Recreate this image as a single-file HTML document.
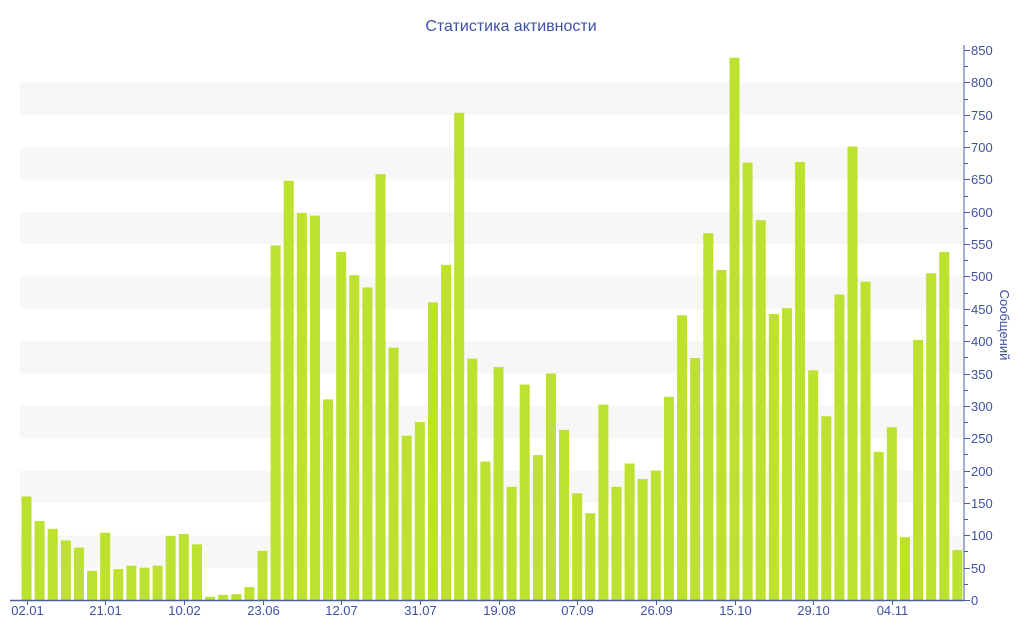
<!DOCTYPE html>
<html><head><meta charset="utf-8"><style>body{margin:0;background:#fff}svg{display:block}</style></head><body>
<svg id="s" width="1024" height="640" xmlns="http://www.w3.org/2000/svg" font-family="'Liberation Sans','DejaVu Sans',sans-serif">
<text x="511" y="31" text-anchor="middle" font-size="16" fill="#3f51a1">Статистика активности</text>
<g id="bands"></g><g id="bars"></g><g id="ax"></g>
<text transform="translate(1000,325) rotate(90)" text-anchor="middle" font-size="13" fill="#3f51a1">Сообщений</text>
</svg>
<script>
const v=[160,122,110,92,81,45,104,48,53,50,53,99,102,86,5,8,9,20,76,548,648,598,594,310,538,502,483,658,390,254,275,460,518,753,373,214,360,175,333,224,350,263,165,134,302,175,211,187,200,314,440,374,567,510,838,676,587,442,451,677,355,284,472,701,492,229,267,97,402,505,538,77];
const ns="http://www.w3.org/2000/svg",Y=u=>600-u*550/850;
function el(p,t,a,txt){const e=document.createElementNS(ns,t);for(const k in a)e.setAttribute(k,a[k]);if(txt)e.textContent=txt;document.getElementById(p).appendChild(e);}
for(let b=50;b<850;b+=100)el('bands','rect',{x:20,y:Y(b+50),width:944,height:550/17,fill:'#f7f7f7'});
const w=944/72;
v.forEach((d,i)=>el('bars','rect',{x:20+i*w+1.5,y:Y(d),width:10,height:600-Y(d),fill:'#bde12f'}));
el('ax','line',{x1:964,y1:45,x2:964,y2:600,stroke:'#4a5fa0','stroke-width':1});
el('ax','line',{x1:10,y1:600.5,x2:964,y2:600.5,stroke:'#4a5fa0','stroke-width':1.5});
for(let t=0;t<=850;t+=25){const y=Math.round(Y(t))+0.5;el('ax','line',{x1:964,y1:y,x2:t%50?968:970,y2:y,stroke:'#4a5fa0'});if(t%50==0)el('ax','text',{x:971,y:y+4.5,'font-size':13,fill:'#3f51a1'},''+t);}
const L=['02.01','21.01','10.02','23.06','12.07','31.07','19.08','07.09','26.09','15.10','29.10','04.11'];
L.forEach((l,j)=>{const x=Math.round(20+j*6*w+w/2)+0.5;el('ax','line',{x1:x,y1:600,x2:x,y2:605,stroke:'#4a5fa0'});el('ax','text',{x:x,y:615,'font-size':13,fill:'#3f51a1','text-anchor':'middle'},l);});
</script>
</body></html>
